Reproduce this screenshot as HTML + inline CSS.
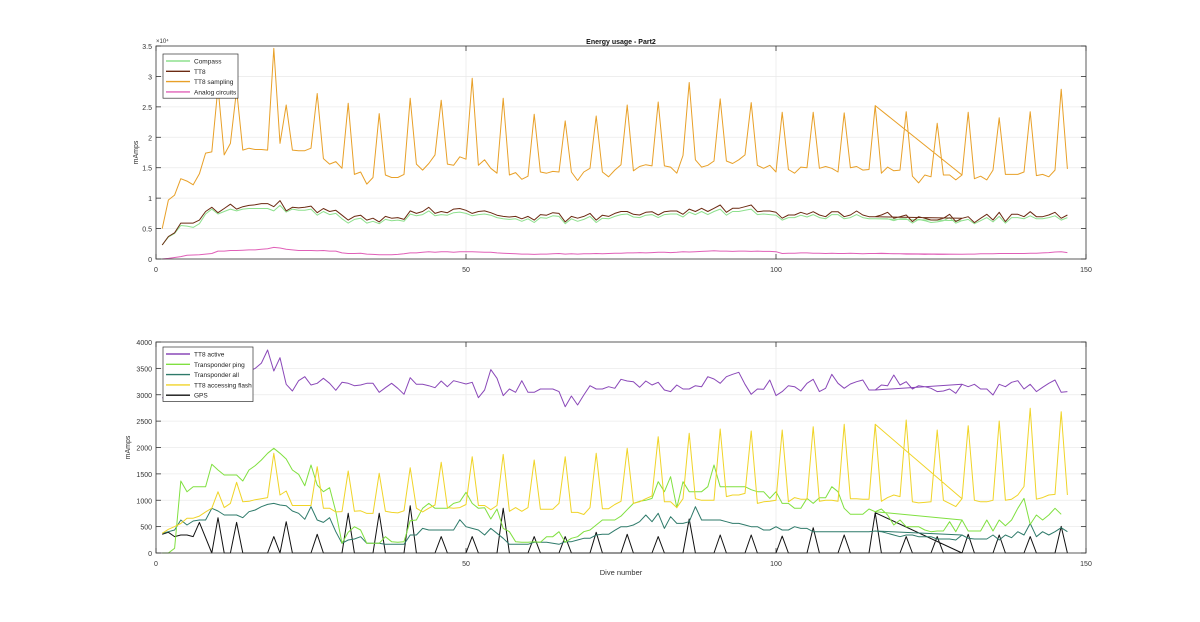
<!DOCTYPE html>
<html><head><meta charset="utf-8"><style>
body{margin:0;background:#fff;}
svg{display:block;font-family:"Liberation Sans",sans-serif;}
</style></head><body>
<svg id="c" width="1200" height="622" viewBox="0 0 1200 622"></svg>
<script>
// ---- data ----
const diveOrderFirst = 130;   // first pass ends at dive 130
const diveOrderRestart = 116; // data restarts at dive 116
const diveCount = 147;
const topTicks = ["0","0.5","1","1.5","2","2.5","3","3.5"];
const topTickValues = [0,5000,10000,15000,20000,25000,30000,35000];
const botTicks = ["0","500","1000","1500","2000","2500","3000","3500","4000"];
const botTickValues = [0,500,1000,1500,2000,2500,3000,3500,4000];
const xTicks = [0,50,100,150];

const compass = [2300,3600,4200,5500,5400,5200,5800,7400,8200,7400,7800,8200,7900,8200,8300,8300,8300,8300,7900,8800,7700,8200,8000,8000,8200,7200,7800,7300,7500,6600,5900,6500,6700,5900,6200,5800,6500,6300,6400,6200,7400,7100,7300,7900,7100,7300,7200,7600,7700,7500,7100,7300,7400,7200,6800,6600,6500,6600,6200,6600,6000,6800,6700,7100,7000,5800,6600,6200,6500,7000,6000,6700,6600,7000,7300,7400,6900,6800,7200,7300,6800,7300,7400,7400,6900,7700,7300,7800,7300,7800,8200,7200,7800,7800,8000,8200,7300,7400,7300,7200,6400,6800,6800,7200,6900,7300,6800,6600,7300,7300,6600,6800,7300,6800,6600,6600,6600,6600,6300,6600,6600,5900,6500,6300,6000,6100,6300,6800,5900,6300,6500,5800,6300,6800,6100,7000,5900,6800,6800,6600,7100,6600,6600,6800,7100,6400,6800];
const tt8 = [2300,3700,4300,5900,5900,5900,6400,7800,8500,7600,8300,9000,8200,8600,8800,8900,9100,9100,8600,9600,7900,8500,8400,8500,8700,7600,8300,7800,8000,7200,6400,7000,7200,6400,6700,6100,7000,6700,6800,6500,7900,7500,7800,8500,7500,7800,7600,8200,8300,8000,7500,7800,7900,7600,7200,7000,6900,7000,6600,7000,6400,7300,7200,7600,7500,6100,7000,6700,7000,7500,6400,7200,7000,7500,7800,7800,7340,7230,7670,7780,7230,7780,7890,7890,7340,8200,7800,8330,7800,8330,8870,7670,8330,8330,8600,8870,7780,7890,7890,7670,6700,7230,7230,7670,7340,7780,7230,6950,7780,7780,6950,7230,7890,7230,6950,6950,7230,7670,6680,6950,7230,6150,6950,6680,6410,6410,6680,7340,6150,6680,6950,5980,6680,7340,6410,7670,6150,7340,7340,6950,7780,6950,6950,7230,7670,6680,7230];
const tt8Sampling = [5000,9700,10500,13200,12800,12200,14000,17400,17600,28300,17100,19000,27800,17900,18200,18000,18000,17900,34600,19000,25300,17900,17800,17800,18200,27200,16500,15600,16000,14900,25600,13900,14300,12300,13400,23900,13800,13400,13400,13900,26400,15600,14600,15700,17100,26100,15600,15400,16800,16400,29700,15400,16300,14900,14100,26400,13800,14200,13100,13600,23800,14300,14100,14400,14300,22700,14300,12900,14300,14900,23500,14300,13500,14600,15500,25300,14500,15200,15500,15300,25800,15300,15100,14100,17000,29000,16300,15100,15400,16100,26300,16100,15700,16300,17100,25700,15400,14900,15400,14300,24100,14700,14100,15100,15000,24100,14900,15200,14900,14300,24000,15000,15200,14600,14700,25200,14100,15100,14500,14600,24200,13600,12500,13800,13500,22300,13800,13800,13000,13800,24100,13200,13600,13000,14600,23200,13900,13900,13900,14300,24200,13700,13900,13500,14600,27900,14800];
const analog = [0,100,250,400,600,650,700,800,900,1300,1300,1400,1400,1450,1500,1500,1600,1700,1900,1800,1600,1500,1400,1400,1400,1350,1400,1300,1300,1000,900,900,950,800,750,700,700,700,750,850,1000,1000,1100,1200,1100,1200,1200,1100,1200,1200,1200,1150,1100,1100,1000,950,900,850,800,800,750,800,800,850,900,800,850,800,850,850,900,850,900,950,950,1000,1000,1050,1000,1050,1100,1100,1050,1100,1200,1150,1200,1250,1300,1370,1300,1300,1250,1300,1300,1250,1300,1250,1250,1200,900,950,950,1000,1000,950,950,900,950,900,900,950,900,850,900,900,950,900,850,850,800,800,800,750,800,750,750,780,780,780,800,800,850,850,850,900,900,900,900,900,950,950,1000,1050,1150,1200,1050];

const tt8Active = [2945,2945,3050,3100,3150,3200,3250,3300,3250,3350,3300,3400,3350,3400,3450,3500,3600,3849,3450,3703,3198,3071,3267,3343,3185,3217,3311,3217,3084,3236,3217,3172,3185,3217,3217,3046,3134,3217,3122,3008,3324,3198,3198,3172,3134,3261,3153,3267,3236,3204,3236,2945,3090,3476,3311,2983,3109,3046,3267,3046,3046,3109,3109,3109,3059,2774,2976,2806,2995,3172,3109,3109,3153,3122,3292,3261,3248,3141,3261,3185,3236,3090,3059,3185,3109,3109,3172,3153,3343,3299,3217,3343,3387,3425,3198,3008,3109,3103,3280,2983,3059,3172,3153,3071,3217,3292,3059,3122,3387,3217,3122,3204,3248,3280,3090,3090,3185,3172,3375,3185,3248,3109,3172,3153,3122,3059,3071,3109,3027,3198,3153,3198,3109,3109,2995,3198,3153,3236,3267,3109,3198,3059,3141,3217,3280,3046,3059];
const transponderPing = [0,0,90,1365,1160,1257,1257,1257,1681,1573,1479,1479,1479,1365,1573,1656,1763,1890,1984,1890,1782,1573,1491,1276,1668,1289,1163,1238,784,183,392,499,436,183,183,183,309,215,202,215,613,625,847,941,847,847,847,941,973,1150,941,847,859,644,834,467,404,215,202,202,215,202,309,309,404,202,278,309,404,436,531,625,625,625,700,820,941,980,1000,1036,1352,1163,1447,859,1352,1163,1163,1163,1257,1668,1257,1257,1257,1257,1257,1200,1163,1163,1036,1163,941,941,847,847,1036,941,1049,1049,1257,1163,847,733,733,733,834,783,834,720,531,625,499,499,499,436,404,417,417,594,404,625,417,417,417,625,417,625,518,625,847,1036,543,720,625,720,847,733];
const transponderAll = [373,404,436,625,531,606,625,625,847,796,720,720,720,670,783,815,878,922,941,910,897,796,752,638,878,625,581,670,404,183,246,265,309,183,183,183,164,164,164,164,341,341,467,436,436,436,436,436,632,499,467,436,341,467,373,278,164,164,164,164,202,202,202,183,164,215,215,246,278,278,341,354,354,430,499,499,531,594,720,594,752,467,689,562,562,594,878,625,625,625,625,594,562,562,531,499,499,436,436,499,436,436,499,467,467,404,404,404,404,404,404,404,404,404,404,417,404,373,341,309,341,341,309,309,309,265,265,265,246,341,278,265,265,265,341,246,341,290,404,341,562,309,404,341,404,480,404];
const tt8Flash = [373,450,500,560,660,660,700,780,850,1160,860,940,1340,970,980,1010,1030,1050,1890,1100,1175,900,900,900,900,1636,850,850,780,784,1555,790,800,750,750,1510,790,770,760,800,1617,850,780,850,910,1719,860,850,860,920,1826,900,900,820,900,1870,790,860,790,860,1763,830,830,830,940,1826,770,770,730,860,1890,840,840,920,980,1984,940,970,1030,1080,2205,970,970,860,1030,2269,1030,1000,1000,1000,2351,1070,1100,1100,1130,2313,940,970,980,1000,2332,970,1050,1020,1020,2395,980,1000,1000,980,2439,1030,1030,1020,1020,2439,980,1050,1100,1070,2521,970,950,960,970,2332,1000,940,880,1030,2414,1000,970,970,1000,2502,1000,1020,1100,1260,2743,1020,1050,1100,1110,2679,1100];
const gps = [354,392,310,341,341,310,581,290,0,670,0,0,581,0,0,0,0,0,310,0,594,0,0,0,0,354,0,0,0,0,752,0,0,0,0,752,0,0,0,0,897,0,0,0,0,310,0,0,0,0,310,0,0,0,0,847,0,0,0,0,310,0,0,0,0,310,0,0,0,0,392,0,0,0,0,354,0,0,0,0,310,0,0,0,0,644,0,0,0,0,341,0,0,0,0,341,0,0,0,0,320,0,0,0,0,480,0,0,0,0,341,0,0,0,0,764,0,0,0,0,310,0,0,0,0,310,0,0,0,0,354,0,0,0,0,341,0,0,0,0,310,0,0,0,0,505,0];

// ---- drawing ----
const NS="http://www.w3.org/2000/svg";
const svg=document.getElementById('c');
function mk(tag,attrs,parent){const e=document.createElementNS(NS,tag);for(const k in attrs)e.setAttribute(k,attrs[k]);(parent||svg).appendChild(e);return e;}
const X0=156,X1=1086;
function xs(d){return X0+(X1-X0)*d/150;}
const panels=[{top:46,bot:259,max:35000,labelX:138},{top:342,bot:553,max:4000,labelX:130}];
function ys(p,v){return p.bot-(p.bot-p.top)*v/p.max;}
const order=[];
for(let d=1;d<=diveOrderFirst;d++)order.push(d);
for(let d=diveOrderRestart;d<=diveCount;d++)order.push(d);

function drawAxes(p,ticks,tickVals,name){
  const g=mk('g',{},svg);
  
  
  mk('rect',{x:X0,y:p.top,width:X1-X0,height:p.bot-p.top,fill:'#fff',stroke:'none'},g);
  tickVals.forEach((v,i)=>{
    const y=ys(p,v);
    if(i>0&&i<tickVals.length-1){const l=mk('line',{x1:X0,x2:X1,y1:y,y2:y,stroke:'#ebebeb','stroke-width':0.8},g);
    
    }
    mk('line',{x1:X0,x2:X0+5,y1:y,y2:y,stroke:'#333','stroke-width':0.8},g);
    mk('line',{x1:X1,x2:X1-5,y1:y,y2:y,stroke:'#333','stroke-width':0.8},g);
    const t=mk('text',{x:X0-4,y:y+3,'font-size':7,'text-anchor':'end',fill:'#333'},g);
    
    
    t.textContent=ticks[i];
  });
  xTicks.forEach(v=>{
    const x=xs(v);
    if(v>0&&v<150){const l=mk('line',{x1:x,x2:x,y1:p.top,y2:p.bot,stroke:'#ebebeb','stroke-width':0.8},g);
    
    }
    mk('line',{x1:x,x2:x,y1:p.bot,y2:p.bot-5,stroke:'#333','stroke-width':0.8},g);
    mk('line',{x1:x,x2:x,y1:p.top,y2:p.top+5,stroke:'#333','stroke-width':0.8},g);
    const t=mk('text',{x:x,y:p.bot+13,'font-size':7,'text-anchor':'middle',fill:'#333'},g);
    
    
    t.textContent=String(v);
  });
  const yl=mk('text',{x:0,y:0,'font-size':7,'text-anchor':'middle',fill:'#333',transform:`translate(${p.labelX},${(p.top+p.bot)/2}) rotate(-90)`},g);
  
  
  yl.textContent='mAmps';
}
function drawSeries(p,vals,color,name,w){
  const pts=order.map(d=>xs(d).toFixed(1)+','+ys(p,vals[d-1]).toFixed(1)).join(' ');
  const l=mk('polyline',{points:pts,fill:'none',stroke:color,'stroke-width':w||1,'stroke-linejoin':'round'});
  
  
}
function drawBox(p){mk('rect',{x:X0,y:p.top,width:X1-X0,height:p.bot-p.top,fill:'none',stroke:'#333','stroke-width':0.8});}
function legend(x,y,w,entries,name){
  const g=mk('g',{},svg);
  
  
  mk('rect',{x:x,y:y,width:w,height:entries.length*10.3+3,fill:'#fff',stroke:'#333','stroke-width':0.7},g);
  entries.forEach((e,i)=>{
    const yy=y+7+i*10.3;
    const item=mk('g',{},g);
    
    
    mk('line',{x1:x+3,x2:x+27,y1:yy,y2:yy,stroke:e[1],'stroke-width':1.4},item);
    const t=mk('text',{x:x+31,y:yy+2.5,'font-size':6.5,fill:'#222'},item);
    t.textContent=e[0];
  });
}

const P1=panels[0],P2=panels[1];
drawAxes(P1,topTicks,topTickValues,'top');
drawSeries(P1,analog,'#e060b8','analog-circuits-line');
drawSeries(P1,compass,'#8ee08e','compass-line');
drawSeries(P1,tt8,'#6b2a12','tt8-line');
drawSeries(P1,tt8Sampling,'#e8a028','tt8-sampling-line');
drawBox(P1);
const ex=mk('text',{x:156,y:43,'font-size':6,fill:'#333'});


ex.textContent='×10⁴';
const ttl=mk('text',{x:621,y:44,'font-size':7,'font-weight':'bold','text-anchor':'middle',fill:'#111'});


ttl.textContent='Energy usage - Part2';
legend(163,54,75,[['Compass','#8ee08e'],['TT8','#6b2a12'],['TT8 sampling','#e8a028'],['Analog circuits','#e060b8']],'top-legend');

drawAxes(P2,botTicks,botTickValues,'bottom');
drawSeries(P2,gps,'#111','gps-line');
drawSeries(P2,transponderAll,'#2e7a6a','transponder-all-line');
drawSeries(P2,transponderPing,'#80e040','transponder-ping-line');
drawSeries(P2,tt8Flash,'#f0d428','tt8-accessing-flash-line');
drawSeries(P2,tt8Active,'#8a48b8','tt8-active-line');
drawBox(P2);
legend(163,347,90,[['TT8 active','#8a48b8'],['Transponder ping','#80e040'],['Transponder all','#2e7a6a'],['TT8 accessing flash','#f0d428'],['GPS','#111']],'bottom-legend');
const xl=mk('text',{x:621,y:575,'font-size':7.5,'text-anchor':'middle',fill:'#333'});


xl.textContent='Dive number';
</script>
</body></html>
